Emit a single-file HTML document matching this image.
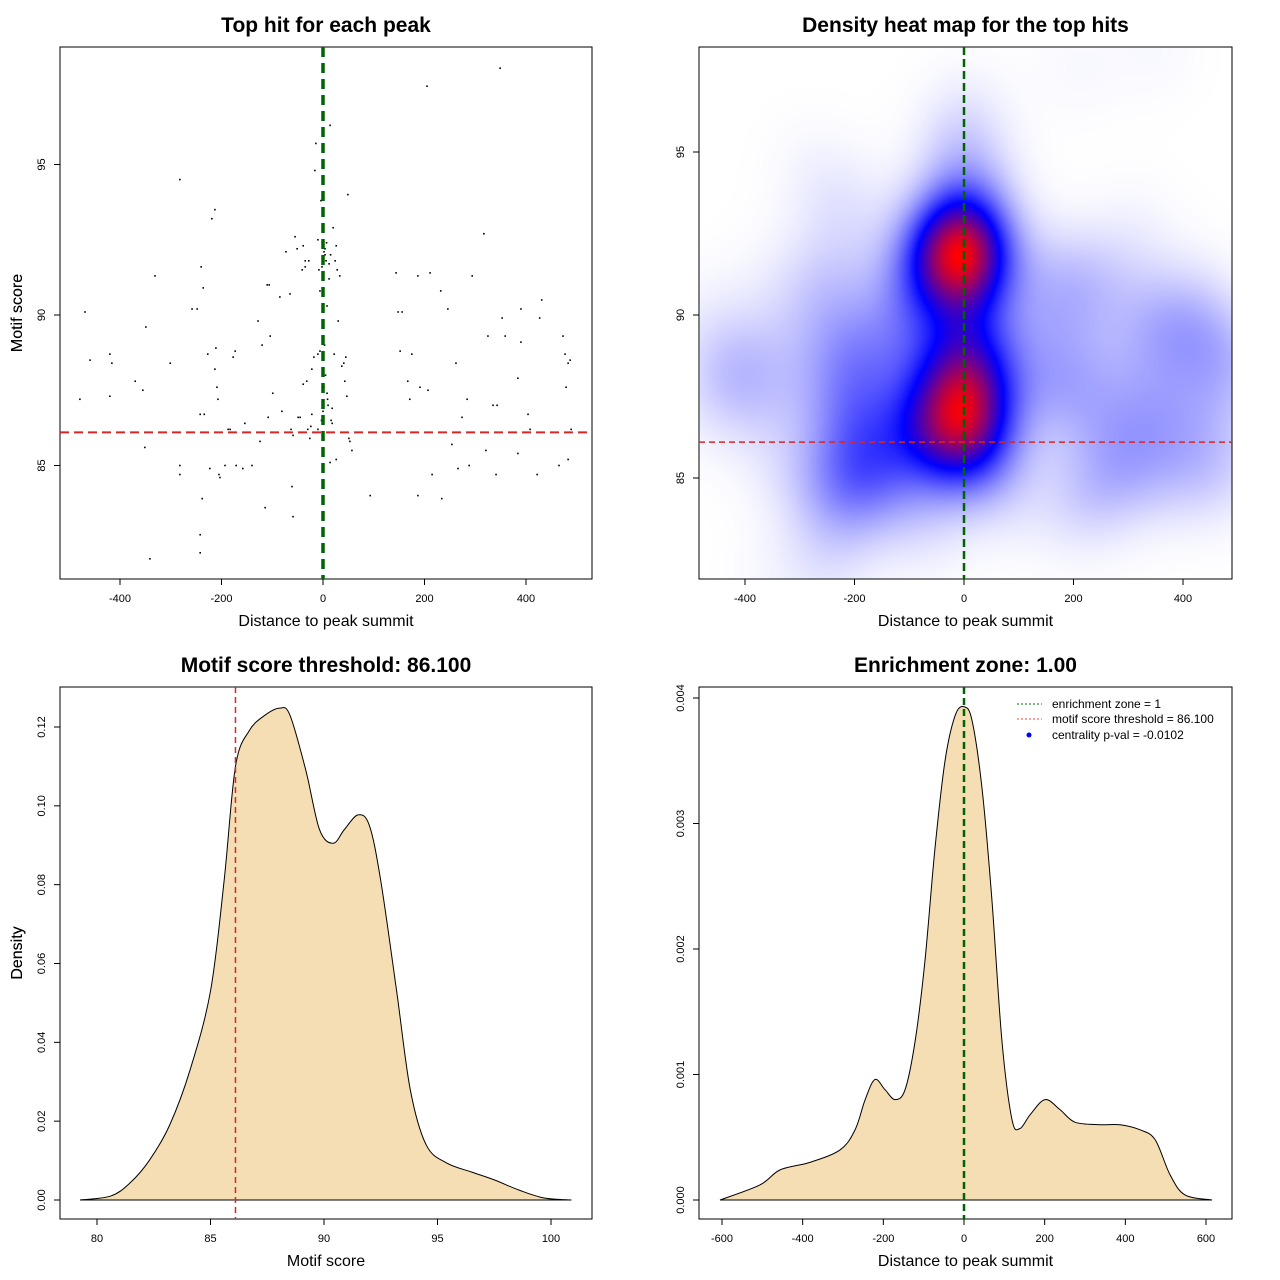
<!DOCTYPE html>
<html><head><meta charset="utf-8"><style>
body{margin:0;background:#fff;width:1280px;height:1280px;overflow:hidden;position:relative;font-family:"Liberation Sans",sans-serif}
#heat{position:absolute;left:700px;top:48px;width:532px;height:531px}
#svg{position:absolute;left:0;top:0}
</style></head><body>
<canvas id="heat" width="266" height="266"></canvas>
<svg id="svg" width="1280" height="1280" xmlns="http://www.w3.org/2000/svg" font-family="Liberation Sans, sans-serif"></svg>
<script>
// ---- data ----
const scatterX=[-479,-469,-459,-420,-416,-420,-370,-355,-351,-341,-349,-331,-301,-282,-282,-282,-258,-248,-240,-236,-242,-238,-242,-242,-234,-227,-223,-219,-213,-213,-211,-209,-207,-205,-203,-193,-187,-183,-177,-173,-171,-158,-154,-140,-128,-124,-120,-114,-110,-106,-108,-104,-99,-85,-81,-73,-65,-63,-61,-59,-59,-55,-51,-49,-45,-39,-39,-41,-35,-35,-32,-30,-28,-26,-24,-22,-22,-18,-16,-14,-10,-8,-10,-6,-10,-6,-4,0,4,8,12,14,16,18,20,22,24,26,28,30,33,37,41,45,43,47,51,53,57,49,14,26,93,144,148,156,152,167,171,175,187,187,191,205,207,211,215,232,234,246,254,262,266,274,284,288,294,317,321,325,335,341,343,353,349,359,384,384,390,390,404,408,422,427,431,465,473,477,483,479,483,489,487,0,2,-2,4,6,8,10,0,2,5,-3,7,12,3,1,9,15,18];
const scatterY=[87.2,90.1,88.5,88.7,88.4,87.3,87.8,87.5,85.6,81.9,89.6,91.3,88.4,94.5,85.0,84.7,90.2,90.2,91.6,90.9,86.7,83.9,82.7,82.1,86.7,88.7,84.9,93.2,93.5,88.2,88.9,87.6,87.2,84.7,84.6,85.0,86.2,86.2,88.6,88.8,85.0,84.9,86.4,85.0,89.8,85.8,89.0,83.6,91.0,91.0,86.6,89.3,87.4,90.6,86.8,92.1,90.7,86.2,84.3,83.3,86.0,92.6,92.2,86.6,86.6,87.7,92.3,91.5,91.6,91.8,87.8,86.2,91.8,85.9,86.3,88.2,86.7,88.6,94.8,95.7,92.5,91.5,88.7,88.8,86.2,90.8,93.8,95.1,92.2,90.3,91.2,96.3,86.5,86.4,92.9,88.7,91.8,92.3,91.5,89.8,91.3,88.3,88.4,88.6,87.8,87.3,85.9,85.8,85.5,94.0,85.1,85.2,84.0,91.4,90.1,90.1,88.8,87.8,87.2,88.7,91.3,84.0,87.6,97.6,87.5,91.4,84.7,90.8,83.9,90.2,85.7,88.4,84.9,86.6,87.2,85.0,91.3,92.7,85.5,89.3,87.0,84.7,87.0,89.9,98.2,89.3,87.9,85.4,90.2,89.1,86.7,86.2,84.7,89.9,90.5,85.0,89.3,88.7,88.4,87.6,85.2,86.2,88.5,91.9,92.1,91.6,92.0,91.8,87.4,87.0,86.8,87.6,88.0,86.5,92.4,91.7,89.0,93.0,87.2,92.0,86.9];
const scoreX=[79.25,80.6,81.45,82.3,83.2,84.1,85,85.6,86.1,86.7,87.4,88.06,88.5,89.2,89.8,90.4,90.9,91.5,92,92.5,93.2,93.8,94.5,95.4,96.5,97.5,98.6,99.7,100.9];
const scoreD=[0,0.001,0.0043,0.010,0.019,0.033,0.053,0.081,0.110,0.119,0.123,0.1248,0.123,0.109,0.094,0.0905,0.094,0.0977,0.095,0.081,0.053,0.028,0.014,0.0094,0.0071,0.0051,0.0025,0.0005,0];
const distX=[-605,-506,-456,-382,-307,-270,-245,-221,-196,-171,-146,-121,-97,-72,-47,-22,0,20,45,69,94,119,139,164,201,238,275,337,387,436,474,511,548,615];
const distD=[0,0.00012,0.00024,0.0003,0.0004,0.00056,0.0008,0.00096,0.00088,0.0008,0.00088,0.00127,0.0019,0.0028,0.0035,0.00386,0.00393,0.00382,0.00327,0.0024,0.00127,0.00064,0.00057,0.00068,0.0008,0.00072,0.00062,0.0006,0.0006,0.00056,0.00048,0.0002,0.00004,0];
const threshold=86.1, zone=0;
const ticksP1X=[-400,-200,0,200,400], ticksP1Y=[85,90,95];
const ticksP3X=[80,85,90,95,100], ticksP3Y=[0,0.02,0.04,0.06,0.08,0.10,0.12];
const ticksP4X=[-600,-400,-200,0,200,400,600], ticksP4Y=[0,0.001,0.002,0.003,0.004];
const labP3Y=["0.00","0.02","0.04","0.06","0.08","0.10","0.12"], labP4Y=["0.000","0.001","0.002","0.003","0.004"];

const S=document.getElementById('svg'),NS='http://www.w3.org/2000/svg';
function el(t,a,p){const e=document.createElementNS(NS,t);for(const k in a)e.setAttribute(k,a[k]);(p||S).appendChild(e);return e;}
function lin(d0,d1,r0,r1){return v=>r0+(v-d0)*(r1-r0)/(d1-d0);}
function txt(x,y,s,o,name){const e=el('text',Object.assign({x:x,y:y,'text-anchor':'middle','font-size':11,fill:'#000'},o||{}));e.textContent=s;

return e;}
function axes(L,T,R,B,xs,xt,xl,ys,yt,yl,title,xtitle){
  const g=el('g',{});
  
  
  const b=el('rect',{x:L,y:T,width:R-L,height:B-T,fill:'none',stroke:'#000','stroke-width':1},g);
  
  
  const lx0=xs(xt[0]),lx1=xs(xt[xt.length-1]);
  el('line',{x1:lx0,x2:lx1,y1:B,y2:B,stroke:'#000'},g);
  xt.forEach((v,i)=>{const x=xs(v);el('line',{x1:x,x2:x,y1:B,y2:B+6,stroke:'#000'},g);
    txt(x,B+23,xl[i],{},'x-tick-label');});
  yt.forEach((v,i)=>{const y=ys(v);el('line',{x1:L,x2:L-6,y1:y,y2:y,stroke:'#000'},g);
    txt(L-15,y,yl[i],{transform:`rotate(-90 ${L-15} ${y})`},'y-tick-label');});
  txt((L+R)/2,25+T-47+7,title,{'font-size':21,'font-weight':'bold'},'chart-title');
  txt((L+R)/2,B+47,xtitle,{'font-size':16},'x-axis-title');
  const yc=(T+B)/2;txt(22,yc,yl.ytitle,{'font-size':16,transform:`rotate(-90 22 ${yc})`},'y-axis-title');
}
function smoothPath(pts){let d=`M${pts[0][0]},${pts[0][1]}`;
  for(let i=0;i<pts.length-1;i++){const p0=pts[Math.max(0,i-1)],p1=pts[i],p2=pts[i+1],p3=pts[Math.min(pts.length-1,i+2)];
    d+=` C${p1[0]+(p2[0]-p0[0])/6},${p1[1]+(p2[1]-p0[1])/6} ${p2[0]-(p3[0]-p1[0])/6},${p2[1]-(p3[1]-p1[1])/6} ${p2[0]},${p2[1]}`;}
  return d;}

// ---- Panel 1 ----
{const xs=lin(0,400,323,526),ys=lin(90,95,315,164.5);
 const l=ticksP1Y.map(String);l.ytitle='Motif score';
 axes(60,47,592,579,xs,ticksP1X,ticksP1X.map(String),ys,ticksP1Y,l,'Top hit for each peak','Distance to peak summit');
 scatterX.forEach((x,i)=>{const c=el('rect',{x:xs(x)-0.8,y:ys(scatterY[i])-0.8,width:1.6,height:1.6,fill:'#000'});
  
  });
 const r=el('line',{x1:60,x2:592,y1:ys(threshold),y2:ys(threshold),stroke:'#d62728','stroke-width':2,'stroke-dasharray':'9,5'});
 
 
 const g=el('line',{x1:xs(zone),x2:xs(zone),y1:47,y2:579,stroke:'#006400','stroke-width':3.5,'stroke-dasharray':'10,6'});
 
 }

// ---- Panel 2 heatmap ----
{const xs=lin(0,200,964,1073.5),ys=lin(90,95,315,152);
 const cv=document.getElementById('heat'),ctx=cv.getContext('2d'),N=266,img=ctx.createImageData(N,N);
 const hx=62,hy=1.25,vals=new Float32Array(N*N);let mx=0;
 for(let j=0;j<N;j++){const py=48+(j+0.5)*2;const yv=90+(py-315)/(152-315)*5;
  for(let i=0;i<N;i++){const px=700+(i+0.5)*2;const xv=(px-964)/109.5*200;let s=0;
   for(let k=0;k<scatterX.length;k++){const dx=(xv-scatterX[k])/hx,dy=(yv-scatterY[k])/hy;const q=dx*dx+dy*dy;if(q<30)s+=Math.exp(-0.5*q);}
   vals[j*N+i]=s;if(s>mx)mx=s;}}
 for(let p=0;p<N*N;p++){let t=Math.pow(vals[p]/mx,1.35);let r,g,b;
  if(t<0.5){const u=t/0.5;r=255*(1-u);g=255*(1-u);b=255;}else{const u=(t-0.5)/0.5;r=255*u;g=0;b=255*(1-u);}
  img.data[p*4]=r;img.data[p*4+1]=g;img.data[p*4+2]=b;img.data[p*4+3]=255;}
 ctx.putImageData(img,0,0);
 const l=ticksP1Y.map(String);l.ytitle='Motif score';
 axes(699,47,1232,579,xs,[-400,-200,0,200,400],['-400','-200','0','200','400'],ys,ticksP1Y,l,'Density heat map for the top hits','Distance to peak summit');
 const r=el('line',{x1:699,x2:1232,y1:ys(threshold),y2:ys(threshold),stroke:'#d62728','stroke-width':1.5,'stroke-dasharray':'6,4'});
 
 
 const g=el('line',{x1:xs(zone),x2:xs(zone),y1:47,y2:579,stroke:'#006400','stroke-width':2.5,'stroke-dasharray':'8,4'});
 
 }

// ---- Panel 3 ----
{const xs=lin(80,100,97,551),ys=lin(0,0.12,1200,727);
 const l=labP3Y.slice();l.ytitle='Density';
 axes(60,687,592,1219,xs,ticksP3X,ticksP3X.map(String),ys,ticksP3Y,l,'Motif score threshold: 86.100','Motif score');
 const pts=scoreX.map((x,i)=>[xs(x),ys(scoreD[i])]);
 const p=el('path',{d:smoothPath(pts)+'Z',fill:'#f5deb3',stroke:'#000','stroke-width':1});
 
 
 const r=el('line',{x1:xs(threshold),x2:xs(threshold),y1:687,y2:1219,stroke:'#d62728','stroke-width':1.5,'stroke-dasharray':'6,4'});
 
 }

// ---- Panel 4 ----
{const xs=lin(0,600,964,1206),ys=lin(0,0.004,1200,698);
 const l=labP4Y.slice();l.ytitle='Density';
 axes(699,687,1232,1219,xs,ticksP4X,ticksP4X.map(String),ys,ticksP4Y,l,'Enrichment zone: 1.00','Distance to peak summit');
 const pts=distX.map((x,i)=>[xs(x),ys(distD[i])]);
 const p=el('path',{d:smoothPath(pts)+'Z',fill:'#f5deb3',stroke:'#000','stroke-width':1});
 
 
 const g=el('line',{x1:xs(zone),x2:xs(zone),y1:687,y2:1219,stroke:'#006400','stroke-width':2.5,'stroke-dasharray':'7,4'});
 
 
 const lg=el('g',{});
 
 
 el('line',{x1:1017,x2:1042,y1:704,y2:704,stroke:'#006400','stroke-dasharray':'2,2'},lg);
 el('line',{x1:1017,x2:1042,y1:719,y2:719,stroke:'#e44','stroke-dasharray':'2,2'},lg);
 el('circle',{cx:1029,cy:735,r:2.5,fill:'#00f'},lg);
 [['enrichment zone = 1',708],['motif score threshold = 86.100',723],['centrality p-val = -0.0102',739]].forEach(a=>{
  const t=txt(1052,a[1],a[0],{'text-anchor':'start','font-size':12},'legend-entry');lg.appendChild(t);});}
</script>
</body></html>
